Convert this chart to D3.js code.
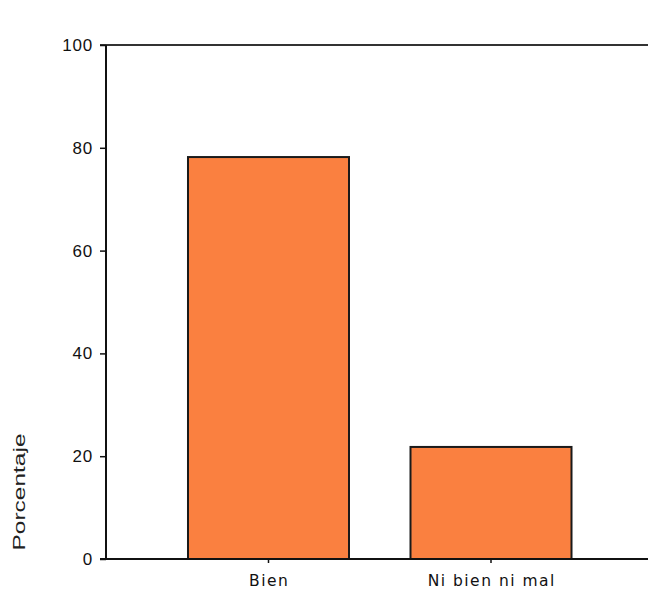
<!DOCTYPE html>
<html>
<head>
<meta charset="utf-8">
<script src="https://cdn.jsdelivr.net/npm/d3@7"></script>
<style>
  html, body { margin: 0; padding: 0; background: #ffffff; }
  svg { display: block; }
</style>
</head>
<body>
<script>
// Data
const categories = ["Bien", "Ni bien ni mal"];
const percentages = [78.2, 21.8];
const yTicks = [0, 20, 40, 60, 80, 100];
const yLabel = "Porcentaje";

const W = 648, H = 592;
const svg = d3.select("body").append("svg").attr("width", W).attr("height", H);

const x = d3.scaleBand().domain(categories).range([106, 653.5])
  .paddingInner(0.2764).paddingOuter(0.3685);
const y = d3.scaleLinear().domain([0, 100]).range([559, 45]);

// Bars
svg.append("g").selectAll("rect").data(categories).join("rect")
  .attr("x", d => x(d))
  .attr("y", (d, i) => y(percentages[i]))
  .attr("width", x.bandwidth())
  .attr("height", (d, i) => y(0) - y(percentages[i]))
  .attr("fill", "#fa8040")
  .attr("stroke", "#1a1a1a")
  .attr("stroke-width", 2);

// Top frame line
svg.append("line").attr("x1", 100).attr("x2", W).attr("y1", y(100)).attr("y2", y(100))
  .attr("stroke", "#333").attr("stroke-width", 2);

// Y axis
const yAxis = d3.axisLeft(y).tickValues(yTicks).tickSize(6).tickPadding(7);
const gy = svg.append("g").attr("transform", "translate(106,0)").call(yAxis);
gy.select(".domain").attr("stroke", "#111").attr("stroke-width", 2).attr("d", `M0,${y(100)}V${y(0)}`);
gy.selectAll(".tick line").attr("stroke", "#111").attr("stroke-width", 1.5);
gy.selectAll(".tick text")
  .attr("font-family", "'Liberation Sans', Arial, sans-serif")
  .attr("font-size", 17).attr("fill", "#111")
  .attr("letter-spacing", 0.8);

// X axis
const xAxis = d3.axisBottom(x).tickSize(4).tickPadding(11.5);
const gx = svg.append("g").attr("transform", `translate(0,${y(0)})`).call(xAxis);
gx.select(".domain").attr("stroke", "#111").attr("stroke-width", 2).attr("d", `M100,0H${W}`);
gx.selectAll(".tick line").attr("stroke", "#111").attr("stroke-width", 1.5);
gx.selectAll(".tick text")
  .attr("font-family", "'DejaVu Sans', Verdana, sans-serif")
  .attr("font-size", 15.5).attr("fill", "#111")
  .attr("letter-spacing", 1.5)
  .attr("dx", 0.75);

// Y label
svg.append("text")
  .attr("transform", "translate(25,492) rotate(-90)")
  .attr("text-anchor", "middle")
  .attr("font-family", "'Liberation Sans', Arial, sans-serif")
  .attr("font-size", 17).attr("fill", "#222")
  .attr("textLength", 117).attr("lengthAdjust", "spacingAndGlyphs")
  .text(yLabel);
</script>
</body>
</html>
